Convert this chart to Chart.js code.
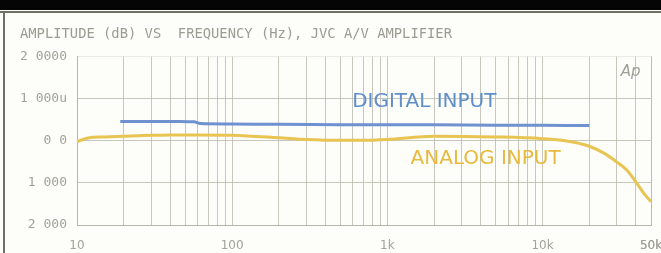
<!DOCTYPE html>
<html>
<head>
<meta charset="utf-8">
<script src="https://cdn.jsdelivr.net/npm/chart.js@4"></script>
<style>
	body { margin: 0; background: #fdfdfa; }
	#wrap { width: 661px; height: 253px; }
</style>
</head>
<body>
<div id="wrap"><canvas id="myChart" width="661" height="253"></canvas></div>
<script>
// frequency response, dB vs Hz
var digitalFreq = [19, 30, 45, 57, 62, 100, 200, 500, 1000, 2000, 5000, 10000, 20000];
var digitalDb = [0.46, 0.46, 0.46, 0.45, 0.41, 0.40, 0.39, 0.38, 0.38, 0.38, 0.37, 0.37, 0.36];

var analogFreq = [10, 12, 15, 20, 30, 40, 60, 100, 200, 300, 500, 700, 1000, 2000, 5000, 10000, 14000, 20000, 25000, 30000, 35000, 40000, 45000, 50000];
var analogDb = [-0.02, 0.07, 0.09, 0.11, 0.13, 0.14, 0.14, 0.13, 0.07, 0.03, 0.01, 0.01, 0.03, 0.11, 0.09, 0.05, 0.0, -0.13, -0.3, -0.5, -0.7, -0.98, -1.25, -1.45];

var xLabelValues = [10, 100, 1000, 10000, 50000];
var xLabelText = ["10", "100", "1k", "10k", "50k"];
var yTickValues = [2, 1, 0, -1, -2];
var yTickText = ["2 0000", "1 000u", "0 0", "1 000", "2 000"];

function toPoints(xs, ys) {
	var pts = [];
	for (var i = 0; i < xs.length; i++) {
		pts.push({ x: xs[i], y: ys[i] });
	}
	return pts;
}

// the paper frame: black strip on top, dark edges
var framePlugin = {
	id: "frame",
	beforeDraw: function (chart) {
		var c = chart.ctx;
		c.save();
		c.fillStyle = "#fdfdfa";
		c.fillRect(0, 0, chart.width, chart.height);
		c.fillStyle = "#050505";
		c.fillRect(0, 0, chart.width, 10);
		c.strokeStyle = "#6f6f66";
		c.lineWidth = 2;
		c.beginPath();
		c.moveTo(0, 12);
		c.lineTo(chart.width, 12);
		c.moveTo(4, 12);
		c.lineTo(4, chart.height);
		c.stroke();
		c.restore();
	},
	afterDraw: function (chart) {
		var c = chart.ctx;
		var xs = chart.scales.x;
		var ys = chart.scales.y;
		c.save();
		c.textAlign = "center";
		c.textBaseline = "middle";
		c.font = "20px 'DejaVu Sans'";
		c.fillStyle = "#5f8fc8";
		c.fillText("DIGITAL INPUT", xs.getPixelForValue(1730), ys.getPixelForValue(0.93));
		c.fillStyle = "#e9b93c";
		c.fillText("ANALOG INPUT", xs.getPixelForValue(4300), ys.getPixelForValue(-0.43));
		c.font = "italic 15px 'DejaVu Sans'";
		c.fillStyle = "#a0a098";
		c.fillText("Ap", xs.getPixelForValue(30000) + 14, ys.getPixelForValue(1.62));
		c.restore();
	}
};

var gridTicks = [];
for (var d = 10; d < 50000; d *= 10) {
	for (var m = 1; m < 10; m++) {
		if (d * m <= 50000) gridTicks.push(d * m);
	}
}
gridTicks.push(50000);

var ctx = document.getElementById("myChart").getContext("2d");
var myChart = new Chart(ctx, {
	type: "line",
	data: {
		datasets: [
			{
				label: "Digital input",
				data: toPoints(digitalFreq, digitalDb),
				borderColor: "#6f91cf",
				borderWidth: 3,
				pointRadius: 0,
				tension: 0.2,
			},
			{
				label: "Analog input",
				data: toPoints(analogFreq, analogDb),
				borderColor: "#e8c452",
				borderWidth: 3,
				pointRadius: 0,
				cubicInterpolationMode: "monotone",
			},
		],
	},
	options: {
		responsive: false,
		animation: false,
		devicePixelRatio: 1,
		layout: { padding: { top: 20, left: 20, right: 10, bottom: 0 } },
		plugins: {
			legend: { display: false },
			tooltip: { enabled: false },
			title: {
				display: true,
				align: "start",
				text: "AMPLITUDE (dB) VS  FREQUENCY (Hz), JVC A/V AMPLIFIER",
				color: "#9c9c92",
				font: { family: "'DejaVu Sans Mono'", size: 13.8, weight: "normal" },
				padding: { top: 6, bottom: 14 },
			},
		},
		scales: {
			x: {
				type: "logarithmic",
				min: 10,
				max: 50000,
				afterBuildTicks: function (scale) {
					scale.ticks = gridTicks.map(function (v) { return { value: v }; });
				},
				afterFit: function (scale) {
					scale.height = 28;
					scale.paddingLeft = 0;
					scale.paddingRight = 0;
				},
				ticks: {
					autoSkip: false,
					maxRotation: 0,
					padding: 14,
					color: "#a3a39a",
					font: { family: "'DejaVu Sans'", size: 12 },
					callback: function (value) {
						var i = xLabelValues.indexOf(value);
						return i >= 0 ? xLabelText[i] : "";
					},
				},
				grid: { color: "rgba(185,185,172,0.8)", drawTicks: false },
				border: { color: "rgba(180,180,168,0.9)" },
			},
			y: {
				min: -2,
				max: 2,
				afterBuildTicks: function (scale) {
					scale.ticks = yTickValues.map(function (v) { return { value: v }; });
				},
				afterFit: function (scale) {
					scale.width = 57;
				},
				ticks: {
					padding: 10,
					color: "#a3a39a",
					font: { family: "'DejaVu Sans Mono'", size: 13 },
					callback: function (value) {
						var i = yTickValues.indexOf(value);
						return i >= 0 ? yTickText[i] : "";
					},
				},
				grid: {
					drawTicks: false,
					color: function (c) {
						return c.tick && c.tick.value === 2 ? "rgba(200,200,190,0.35)" : "rgba(185,185,172,0.8)";
					},
				},
				border: { color: "rgba(180,180,168,0.9)" },
			},
		},
	},
	plugins: [framePlugin],
});
</script>
</body>
</html>
